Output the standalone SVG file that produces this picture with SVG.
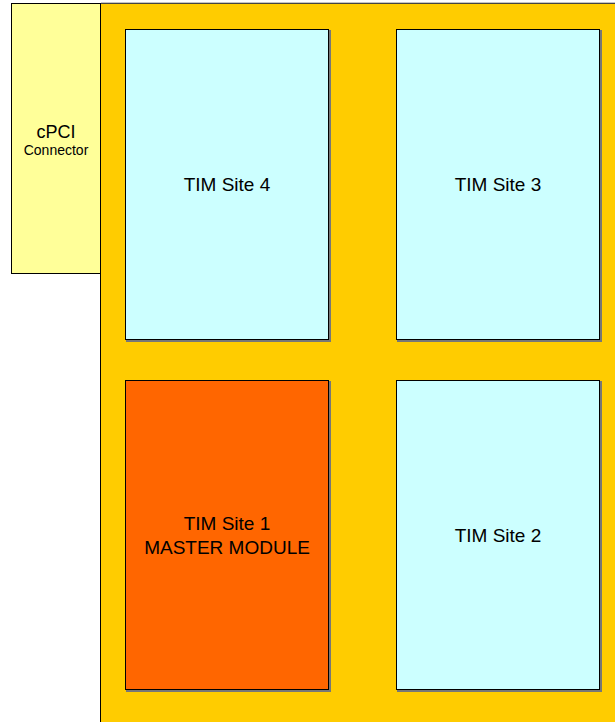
<svg xmlns="http://www.w3.org/2000/svg" width="615" height="722" viewBox="0 0 615 722">
<style>
.site{fill:#CCFFFF;stroke:#000;stroke-width:1}
.shadow{fill:none;stroke:#777;stroke-width:2}
.t{font-family:"Liberation Sans",Arial,sans-serif;font-size:19px;fill:#000;text-anchor:middle}
.ts{font-family:"Liberation Sans",Arial,sans-serif;font-size:14px;fill:#000;text-anchor:middle}
</style>
<rect width="615" height="722" fill="#fff"/>
<g id="board">
<rect x="100.5" y="3.5" width="520" height="725" fill="#FFCC00" stroke="#000"/>
<path d="M101 3 H615" stroke="#888" stroke-width="1" fill="none"/>
</g>
<g id="connector">
<rect x="11.5" y="3.5" width="89" height="270" fill="#FFFF99" stroke="#000"/>
<text class="t" x="56" y="138" style="font-size:18px">cPCI</text>
<text class="ts" x="56" y="155">Connector</text>
</g>
<g id="site4">
<path class="shadow" d="M330 30 V341 H126"/>
<rect class="site" x="125.5" y="29.5" width="203" height="310"/>
<text class="t" x="227" y="191">TIM Site 4</text>
</g>
<g id="site3">
<path class="shadow" d="M601 30 V341 H397"/>
<rect class="site" x="396.5" y="29.5" width="203" height="310"/>
<text class="t" x="498" y="191">TIM Site 3</text>
</g>
<g id="site1">
<path class="shadow" d="M330 381 V691 H126"/>
<rect x="125.5" y="380.5" width="203" height="309" fill="#FF6600" stroke="#000"/>
<text class="t" x="227" y="530">TIM Site 1</text>
<text class="t" x="227" y="554">MASTER MODULE</text>
</g>
<g id="site2">
<path class="shadow" d="M601 381 V691 H397"/>
<rect class="site" x="396.5" y="380.5" width="203" height="309"/>
<text class="t" x="498" y="542">TIM Site 2</text>
</g>
<g id="connectors"></g>
</svg>
